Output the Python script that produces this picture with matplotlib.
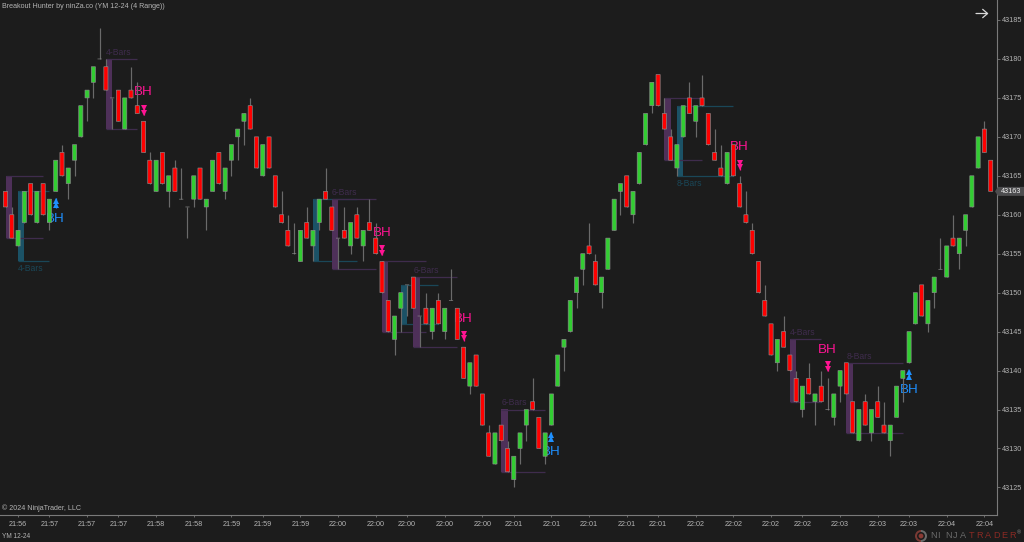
#!/bin/python3

import matplotlib
matplotlib.use('Agg')
import numpy as np
import matplotlib.pyplot as plt
from matplotlib.patches import Polygon, Circle, Wedge

plt.rcParams['font.family'] = ['Liberation Sans', 'DejaVu Sans']

BASE = 43100

# range bars, prices are BASE + value
opens = [63,60,56,59,64,59,64,59,63,68,
         64,67,70,75,77,80,79,75,76,71,
         76,74,72,67,63,68,63,66,62,61,
         62,66,61,63,68,63,67,70,72,74,
         70,65,70,65,60,58,55,54,59,56,
         59,63,61,57,58,56,60,56,59,57,
         54,49,44,48,51,52,47,48,45,49,
         45,49,48,43,38,42,37,32,28,33,
         30,26,30,33,36,34,29,33,38,43,
         45,50,53,56,54,50,53,58,63,65,
         60,64,69,74,78,73,70,66,70,75,
         72,75,73,68,66,64,69,64,60,58,
         54,49,46,41,45,42,39,35,39,36,
         38,35,34,38,41,36,31,36,32,36,
         33,31,34,39,41,46,51,46,50,53,
         52,57,55,58,61,66,71,67]
closes = [61,57,58,63,60,63,60,62,67,65,
          66,69,74,76,79,80,76,75,72,75,
          75,73,68,64,67,64,65,63,62,61,
          65,62,62,67,64,66,69,71,73,71,
          66,69,66,61,59,56,55,58,57,58,
          62,62,58,57,57,59,57,58,58,55,
          50,45,47,50,51,48,47,46,48,46,
          48,49,44,39,41,38,33,29,32,31,
          27,29,32,35,35,30,32,37,42,44,
          49,52,55,55,51,52,57,62,64,61,
          63,68,73,77,74,71,67,69,74,73,
          74,74,69,67,65,68,65,61,59,55,
          50,47,42,44,43,40,36,38,37,37,
          36,35,37,40,37,32,35,33,35,34,
          32,33,38,40,45,50,47,49,52,53,
          56,56,57,60,65,70,68,63]
highs = [63,61,58,63,64,63,64,62,67,69,
         66,69,74,76,79,84,80,75,76,75,
         79,77,72,68,67,68,65,67,66,61,
         65,66,62,67,68,66,69,71,73,75,
         70,69,70,65,63,60,59,58,61,58,
         62,66,61,57,61,59,61,58,62,59,
         54,49,47,50,51,52,47,50,48,50,
         48,53,48,43,41,42,37,33,32,33,
         31,29,32,35,39,34,32,37,42,44,
         49,52,55,59,55,52,57,62,64,65,
         63,68,73,77,78,75,71,69,74,77,
         74,78,73,71,69,68,69,65,63,59,
         54,51,46,44,47,42,40,38,41,37,
         40,39,37,40,41,36,35,37,35,38,
         36,33,38,40,45,50,51,49,52,57,
         56,60,57,60,65,70,72,67]
lows = [61,57,56,59,60,59,60,58,63,65,
        62,65,70,72,75,80,76,71,72,71,
        75,73,68,64,63,64,61,63,62,57,
        61,62,58,63,64,62,65,67,69,71,
        66,65,66,61,59,56,55,54,57,54,
        58,62,58,53,57,55,57,54,58,55,
        50,45,42,45,47,48,43,46,44,46,
        44,49,44,39,37,38,33,29,28,31,
        27,25,28,31,35,30,28,33,38,40,
        45,48,51,55,51,48,53,58,60,61,
        59,64,69,73,74,71,67,65,70,73,
        70,74,69,67,65,64,65,61,59,55,
        50,47,42,40,43,40,36,34,37,33,
        36,35,33,36,37,32,31,33,31,34,
        32,29,34,36,41,46,47,45,48,53,
        52,56,53,56,61,66,68,63]

# breakout boxes
purple_start = [0, 16, 52, 60, 65, 79, 105, 125, 134]
purple_end = [6, 21, 59, 67, 72, 86, 111, 130, 143]
purple_top = [65, 80, 62, 54, 52, 35, 75, 44, 41]
purple_bottom = [57, 71, 53, 45, 43, 27, 67, 36, 32]
purple_labels = ['', '4-Bars', '6-Bars', '', '6-Bars', '6-Bars', '', '4-Bars', '8-Bars']

teal_start = [2, 49, 63, 107]
teal_end = [7, 56, 69, 116]
teal_top = [63, 62, 51, 74]
teal_bottom = [54, 54, 46, 65]
teal_labels = ['4-Bars', '', '', '8-Bars']

# signals
sell_bars = [22, 60, 73, 117, 131]
sell_arrow = [73.4, 55.4, 44.4, 66.4, 40.5]
sell_text = [75.7, 57.6, 46.6, 68.7, 42.6]
buy_bars = [8, 87, 144]
buy_arrow = [61.5, 31.5, 39.5]
buy_text = [59.5, 29.5, 37.5]

price_ticks = [43185, 43180, 43175, 43170, 43165, 43160, 43155, 43150, 43145, 43140, 43135, 43130, 43125]
time_bars = [2, 7, 13, 18, 24, 30, 36, 41, 47, 53, 59, 64, 70, 76, 81, 87, 93, 99, 104, 110, 116, 122, 127, 133, 139, 144, 150, 156]
time_labels = ['21:56', '21:57', '21:57', '21:57', '21:58', '21:58', '21:59', '21:59', '21:59', '22:00',
               '22:00', '22:00', '22:00', '22:00', '22:01', '22:01', '22:01', '22:01', '22:01', '22:02',
               '22:02', '22:02', '22:02', '22:03', '22:03', '22:03', '22:04', '22:04']
last_price = 43163

W, H = 1024, 542
BG = '#1c1c1c'
RED = '#ff0000'
GREEN = '#32cd32'
PINK = '#ff1493'
BLUE = '#1e90ff'
PURPLE = '#4e3059'
PURPLE_LINE = '#3f2c4d'
TEAL = '#1b5266'
TEAL_LINE = '#1a4758'
TEXT = '#b4b4b4'

fig = plt.figure(figsize=(W / 100, H / 100), dpi=100, facecolor=BG)
ax = fig.add_axes([0, 1 - 515 / H, 997 / W, 515 / H], facecolor=BG)
ax.set_xlim(-5.5 / 6.275, (997 - 5.5) / 6.275)
ax.set_ylim(43185 - 495 / 7.79, 43185 + 20 / 7.79)


def draw_boxes(start, end, top, bottom, labels, fill, line, label_below):
    for s, e, t, b, lab in zip(start, end, top, bottom, labels):
        t += BASE
        b += BASE
        ax.bar(s + 0.5, t - b, width=1, bottom=b, color=fill, linewidth=0, zorder=1)
        ax.hlines([t, b], s, e, color=line, linewidth=0.9, zorder=1)
        if lab:
            if label_below:
                ax.annotate(lab, (s, b), xytext=(0, -2), textcoords='offset points', color=line,
                            fontsize=6.2, ha='left', va='top', zorder=1)
            else:
                ax.annotate(lab, (s, t), xytext=(0, 1.5), textcoords='offset points', color=line,
                            fontsize=6.2, ha='left', va='bottom', zorder=1)


draw_boxes(teal_start, teal_end, teal_top, teal_bottom, teal_labels, TEAL, TEAL_LINE, True)
draw_boxes(purple_start, purple_end, purple_top, purple_bottom, purple_labels, PURPLE, PURPLE_LINE, False)


def draw_signals(bars, arrow, label, color, up):
    xs = np.array(bars)
    ya = np.array(arrow) + BASE
    for x, y, t in zip(xs, ya, label):
        ax.text(x, t + BASE, 'BH', color=color, fontsize=9.6, ha='center', va='center', zorder=2)
        ax.vlines(x, y - 0.6, y + 0.6, color=color, linewidth=0.9, zorder=2)
    marker = '^' if up else 'v'
    ax.plot(xs, ya + 0.28, marker, color=color, markersize=4.2, markeredgewidth=0, zorder=2)
    ax.plot(xs, ya - 0.28, marker, color=color, markersize=4.2, markeredgewidth=0, zorder=2)


draw_signals(sell_bars, sell_arrow, sell_text, PINK, False)
draw_signals(buy_bars, buy_arrow, buy_text, BLUE, True)

# candles
idx = np.arange(len(opens))
o = np.array(opens) + BASE
c = np.array(closes) + BASE
ax.vlines(idx, np.array(lows) + BASE, np.array(highs) + BASE, color='#6a6a6a', linewidth=0.85, zorder=3)
colors = [GREEN if b > a else (RED if b < a else '#9a9a9a') for a, b in zip(o, c)]
candles = ax.bar(idx, np.abs(c - o), width=0.66, bottom=np.minimum(o, c), color=colors,
                 edgecolor='#8c8c8c', linewidth=0.45, zorder=4)
for p in candles:
    p.set_snap(False)

# axes
for side in ['top', 'left']:
    ax.spines[side].set_visible(False)
for side in ['right', 'bottom']:
    ax.spines[side].set_color('#7a7a7a')
    ax.spines[side].set_linewidth(0.8)
ax.yaxis.tick_right()
ax.set_yticks(price_ticks)
ax.set_yticklabels([str(p) for p in price_ticks])
ax.set_xticks(time_bars)
ax.set_xticklabels(time_labels)
ax.tick_params(axis='y', colors='#7a7a7a', labelcolor=TEXT, labelsize=5.2, length=2, width=0.6, pad=1.2)
ax.tick_params(axis='x', colors='#7a7a7a', labelcolor=TEXT, labelsize=5.2, length=1.5, width=0.6, pad=2.5)


def px_text(x, y, s, **kw):
    return fig.text(x / W, 1 - y / H, s, **kw)


px_text(2, 6, 'Breakout Hunter by ninZa.co (YM 12-24 (4 Range))', color=TEXT, fontsize=5.1, va='center')
px_text(2, 508.5, '\u00a9 2024 NinjaTrader, LLC', color=TEXT, fontsize=5.1, va='center')
px_text(2, 536, 'YM 12-24', color=TEXT, fontsize=4.7, va='center')

# last price flag
yp = ax.transData.transform((0, last_price))[1]
flag = Polygon([(995, yp), (998, yp + 4.5), (1024, yp + 4.5), (1024, yp - 4.5), (998, yp - 4.5)],
               closed=True, facecolor='#4d4d4f', edgecolor='none', transform=None, zorder=5)
fig.add_artist(flag)
fig.text(1000.5 / W, yp / H, str(last_price), color='#f0f0f0', fontsize=5.2, va='center', ha='left', zorder=6)

# arrow, top right
ax.annotate('', xy=(988.5, H - 13.5), xytext=(976, H - 13.5), xycoords='figure pixels', textcoords='figure pixels',
            arrowprops=dict(arrowstyle='->,head_length=0.35,head_width=0.3', color='#d8d8d8', lw=0.9, shrinkA=0, shrinkB=0))

# NinjaTrader logo
logo_ax = fig.add_axes([0, 0, 1, 1], facecolor='none')
logo_ax.set_xlim(0, W)
logo_ax.set_ylim(H, 0)
logo_ax.axis('off')
logo_ax.add_patch(Wedge((921, 536), 6, 90, 270, width=2, facecolor='#7a3a34', edgecolor='none'))
logo_ax.add_patch(Wedge((921, 536), 6, 270, 90, width=2, facecolor='#6a6a6a', edgecolor='none'))
logo_ax.add_patch(Circle((921, 536), 2.4, facecolor='#8a3a34', edgecolor='none'))
for i, ch in enumerate('NINJA'):
    logo_ax.text(930 + i * 7.6, 536, ch, color='#6a6a6a', fontsize=6.6, va='center', ha='left')
for i, ch in enumerate('TRADER'):
    logo_ax.text(968.5 + i * 8.1, 536, ch, color='#8a2a24', fontsize=6.6, va='center', ha='left')
logo_ax.text(1017, 533, '\u00ae', color='#8a8a8a', fontsize=4, va='center', ha='left')

fig.savefig('out.png', dpi=100, facecolor=BG)
